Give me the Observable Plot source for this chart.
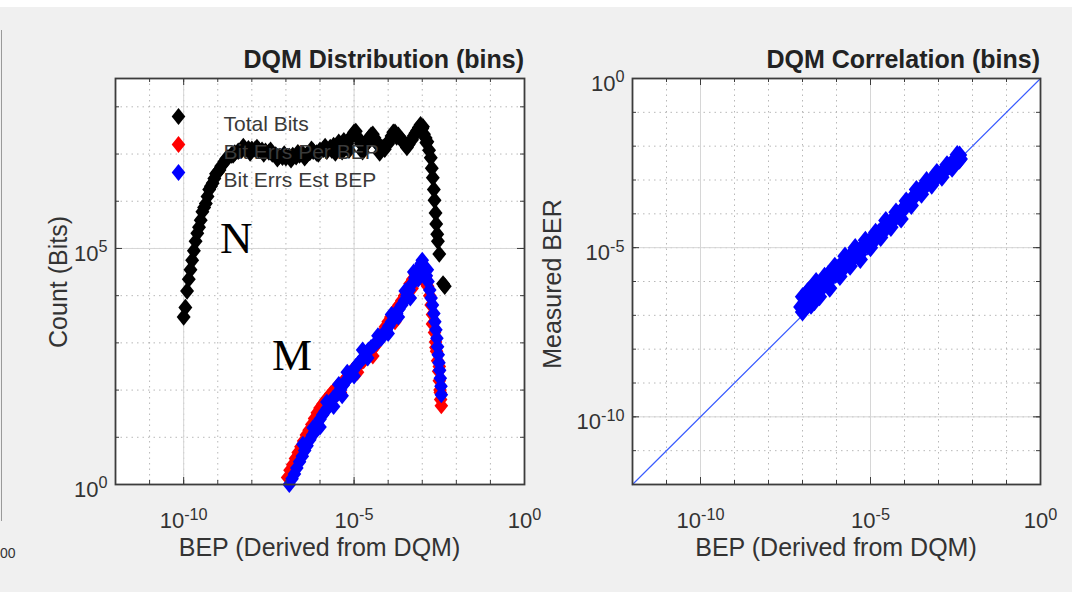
<!DOCTYPE html>
<html><head><meta charset="utf-8">
<script src="https://cdn.jsdelivr.net/npm/d3@7"></script>
<script src="https://cdn.jsdelivr.net/npm/@observablehq/plot@0.6"></script>
<style>
html,body{margin:0;padding:0;background:#f0f0f0;}
#root{position:relative;width:1072px;height:592px;overflow:hidden;background:#f0f0f0;font-family:"Liberation Sans",Arial,sans-serif;}
.panel{position:absolute;top:0;}
#topband{position:absolute;left:0;top:0;width:1072px;height:7px;background:#fff;}
#edge{position:absolute;left:1px;top:30px;height:491px;border-left:1px solid #9a9a9a;}
#overlay{position:absolute;left:0;top:0;pointer-events:none;}
</style></head>
<body>
<div id="root">
  <div id="topband"></div>
  <div id="edge"></div>
  <div id="leftPanel" class="panel" style="left:0"></div>
  <div id="rightPanel" class="panel" style="left:536px"></div>
</div>
<script>
// ---------- DATA (all values are log10 exponents) ----------
// Left panel: [log10 BEP, log10 count]
const totalBits = [
  [-10.0,3.55],[-9.95,3.75],[-9.9,4.10],[-9.85,4.35],[-9.8,4.55],[-9.75,4.75],[-9.7,4.95],[-9.65,5.15],
  [-9.6,5.32],[-9.55,5.45],[-9.5,5.60],[-9.45,5.78],[-9.4,5.87],[-9.35,5.95],[-9.3,6.10],[-9.25,6.25],
  [-9.2,6.32],[-9.15,6.38],[-9.1,6.48],[-9.05,6.58],[-9.0,6.62],[-8.95,6.66],[-8.9,6.74],[-8.8,6.84],
  [-8.75,6.90],[-8.7,6.92],[-8.6,6.98],[-8.55,6.98],[-8.5,7.02],[-8.4,7.06],[-8.3,7.08],[-8.25,7.16],
  [-8.2,7.10],[-8.1,7.11],[-8.05,7.02],[-8.0,7.10],[-7.9,7.10],[-7.85,7.14],[-7.8,7.09],[-7.7,7.08],
  [-7.65,7.00],[-7.6,7.06],[-7.5,7.04],[-7.45,7.08],[-7.4,7.00],[-7.3,6.98],[-7.25,6.90],[-7.2,6.95],
  [-7.1,6.93],[-7.05,7.00],[-7.0,6.92],[-6.9,6.95],[-6.85,6.88],[-6.8,6.97],[-6.7,6.94],[-6.65,7.03],
  [-6.6,6.98],[-6.5,7.00],[-6.45,6.92],[-6.4,6.97],[-6.3,7.03],[-6.25,7.10],[-6.2,7.06],[-6.1,7.02],
  [-6.05,7.00],[-6.0,7.08],[-5.9,7.10],[-5.85,7.16],[-5.8,7.06],[-5.7,7.14],[-5.65,7.08],[-5.6,7.18],
  [-5.55,7.02],[-5.5,7.12],[-5.45,7.25],[-5.4,7.20],[-5.35,7.05],[-5.3,7.28],[-5.25,7.16],[-5.2,7.22],
  [-5.15,7.08],[-5.1,7.35],[-5.05,7.40],[-5.0,7.46],[-4.95,7.48],[-4.9,7.36],[-4.85,7.30],[-4.8,7.22],
  [-4.75,7.05],[-4.7,7.16],[-4.65,7.20],[-4.6,7.28],[-4.55,7.35],[-4.5,7.40],[-4.45,7.42],[-4.4,7.34],
  [-4.35,7.26],[-4.3,7.20],[-4.25,7.02],[-4.2,7.14],[-4.15,7.14],[-4.1,7.10],[-4.0,7.22],[-3.95,7.30],
  [-3.9,7.38],[-3.85,7.46],[-3.8,7.46],[-3.75,7.36],[-3.7,7.40],[-3.6,7.30],[-3.55,7.24],[-3.5,7.22],
  [-3.45,7.14],[-3.4,7.20],[-3.3,7.30],[-3.25,7.38],[-3.2,7.44],[-3.15,7.50],[-3.1,7.56],[-3.05,7.62],
  [-3.0,7.54],[-2.98,7.58],[-2.95,7.42],[-2.9,7.34],[-2.88,7.24],[-2.85,7.26],[-2.8,7.08],[-2.75,6.92],
  [-2.72,6.70],[-2.69,6.50],[-2.66,6.25],[-2.64,6.02],[-2.61,5.75],[-2.59,5.52],[-2.56,5.30],[-2.54,5.15],
  [-2.5,4.88],[-2.39,4.25],[-2.34,4.20]
];
const bitErrsPer = [
  [-6.95,0.15],[-6.88,0.30],[-6.80,0.42],[-6.72,0.55],[-6.64,0.68],[-6.60,0.55],[-6.56,0.80],[-6.48,0.92],
  [-6.40,1.05],[-6.32,1.15],[-6.30,0.98],[-6.24,1.27],[-6.16,1.40],[-6.08,1.52],[-6.00,1.62],[-5.92,1.70],
  [-5.90,1.58],[-5.84,1.78],[-5.76,1.85],[-5.68,1.92],[-5.60,1.98],[-5.60,1.82],[-5.52,2.05],[-5.44,2.10],
  [-5.40,1.95],[-5.36,2.14],[-5.28,2.20],[-5.20,2.28],[-5.12,2.35],[-5.04,2.42],[-4.96,2.48],[-4.90,2.38],
  [-4.88,2.52],[-4.80,2.58],[-4.72,2.62],[-4.64,2.70],[-4.56,2.78],[-4.48,2.85],[-4.45,2.72],[-4.40,2.92],
  [-4.32,3.00],[-4.24,3.10],[-4.16,3.22],[-4.08,3.34],[-4.00,3.45],[-3.92,3.55],[-3.84,3.64],[-3.80,3.45],
  [-3.76,3.72],[-3.68,3.80],[-3.60,3.90],[-3.52,4.00],[-3.44,4.12],[-3.36,4.25],[-3.30,4.15],[-3.28,4.35],
  [-3.20,4.45],[-3.12,4.55],[-3.05,4.62],[-2.98,4.55],[-2.90,4.40],[-2.88,4.25],[-2.84,4.20],[-2.78,4.00],
  [-2.74,3.80],[-2.70,3.60],[-2.70,3.40],[-2.67,3.42],[-2.64,3.22],[-2.61,3.02],[-2.60,2.90],[-2.58,2.82],
  [-2.55,2.62],[-2.52,2.40],[-2.50,2.50],[-2.50,2.20],[-2.48,2.00],[-2.47,1.95],[-2.46,1.80],[-2.44,1.67]
];
const bitErrsEst = [
  [-6.90,0.00],[-6.82,0.12],[-6.75,0.22],[-6.68,0.35],[-6.60,0.48],[-6.52,0.60],[-6.50,0.85],[-6.45,0.72],
  [-6.38,0.82],[-6.30,0.95],[-6.22,1.05],[-6.20,1.20],[-6.15,1.12],[-6.08,1.25],[-6.00,1.38],[-6.00,1.22],
  [-5.92,1.48],[-5.85,1.55],[-5.80,1.75],[-5.78,1.62],[-5.70,1.72],[-5.62,1.82],[-5.60,1.65],[-5.55,1.88],
  [-5.48,1.92],[-5.45,2.12],[-5.40,2.00],[-5.35,1.88],[-5.32,2.10],[-5.25,2.18],[-5.20,2.38],[-5.18,2.25],
  [-5.10,2.33],[-5.02,2.42],[-5.00,2.30],[-4.95,2.50],[-4.88,2.56],[-4.80,2.62],[-4.75,2.85],[-4.72,2.70],
  [-4.65,2.78],[-4.60,2.68],[-4.58,2.85],[-4.50,2.90],[-4.42,2.95],[-4.35,3.00],[-4.30,3.15],[-4.28,3.05],
  [-4.20,3.10],[-4.12,3.18],[-4.05,3.28],[-4.00,3.20],[-3.98,3.36],[-3.90,3.45],[-3.90,3.60],[-3.82,3.54],
  [-3.75,3.62],[-3.70,3.55],[-3.68,3.72],[-3.60,3.80],[-3.52,3.90],[-3.50,4.10],[-3.45,4.00],[-3.38,4.12],
  [-3.35,3.95],[-3.30,4.25],[-3.25,4.50],[-3.22,4.38],[-3.15,4.50],[-3.12,4.35],[-3.08,4.60],[-3.03,4.68],
  [-3.00,4.75],[-2.98,4.62],[-2.95,4.45],[-2.93,4.52],[-2.88,4.42],[-2.85,4.55],[-2.83,4.30],[-2.78,4.12],
  [-2.74,3.95],[-2.70,3.80],[-2.66,3.62],[-2.63,3.45],[-2.60,3.28],[-2.57,3.10],[-2.55,2.92],[-2.53,2.75],
  [-2.51,2.58],[-2.49,2.42],[-2.47,2.25],[-2.45,2.08],[-2.44,1.90]
];
// Right panel: [log10 BEP, log10 measured BER]
const correlation = [
  [-7.05,-6.75],[-7.00,-6.45],[-7.00,-6.90],[-6.95,-6.70],[-6.92,-6.40],[-6.90,-6.50],[-6.90,-6.75],[-6.85,-6.30],
  [-6.80,-6.55],[-6.80,-6.25],[-6.75,-6.40],[-6.75,-6.70],[-6.70,-6.20],[-6.65,-6.60],[-6.62,-6.35],[-6.60,-6.00],
  [-6.55,-6.10],[-6.50,-6.45],[-6.48,-6.25],[-6.40,-5.95],[-6.35,-5.85],[-6.32,-6.05],[-6.25,-5.80],[-6.20,-6.20],
  [-6.18,-5.92],[-6.10,-5.70],[-6.05,-5.55],[-6.02,-5.78],[-5.95,-5.60],[-5.90,-5.85],[-5.88,-5.52],[-5.80,-5.62],
  [-5.75,-5.25],[-5.72,-5.40],[-5.64,-5.30],[-5.60,-5.55],[-5.56,-5.38],[-5.48,-5.18],[-5.45,-5.00],[-5.40,-5.10],
  [-5.32,-5.20],[-5.30,-5.35],[-5.24,-4.98],[-5.16,-4.90],[-5.15,-4.78],[-5.08,-4.95],[-5.00,-4.78],[-5.00,-5.00],
  [-4.92,-4.70],[-4.85,-4.55],[-4.84,-4.72],[-4.76,-4.56],[-4.70,-4.70],[-4.68,-4.48],[-4.60,-4.50],[-4.55,-4.20],
  [-4.52,-4.34],[-4.44,-4.28],[-4.40,-4.40],[-4.36,-4.22],[-4.28,-4.10],[-4.25,-3.95],[-4.20,-4.05],[-4.12,-3.96],
  [-4.10,-4.15],[-4.04,-3.85],[-3.96,-3.78],[-3.95,-3.62],[-3.88,-3.68],[-3.80,-3.58],[-3.80,-3.75],[-3.72,-3.50],
  [-3.65,-3.28],[-3.64,-3.40],[-3.56,-3.32],[-3.50,-3.42],[-3.48,-3.24],[-3.40,-3.18],[-3.35,-3.02],[-3.32,-3.10],
  [-3.24,-3.04],[-3.20,-3.15],[-3.16,-2.98],[-3.08,-2.92],[-3.05,-2.78],[-3.00,-2.86],[-2.92,-2.80],[-2.90,-2.92],
  [-2.84,-2.72],[-2.76,-2.66],[-2.75,-2.55],[-2.68,-2.58],[-2.60,-2.50],[-2.60,-2.65],[-2.52,-2.42],[-2.45,-2.25],
  [-2.44,-2.34],[-2.40,-2.42],[-2.38,-2.26],[-2.36,-2.38]
];
const identityLine = [-12, 0];              // y = x reference line (log10 BEP = log10 BER)
const seriesNames = ["Total Bits", "Bit Errs Per BEP", "Bit Errs Est BEP"];
const seriesColors = ["#000000", "#ff0000", "#0000ff"];
// Axis tick exponents
const bepDomain = [-12, 0];
const countDomain = [0, 8.6];
const berDomain = [-12, 0];
const bepMajor = [-10, -5, 0];
const bepMinor = [-11, -10, -9, -8, -7, -6, -5, -4, -3, -2, -1];
const countMajor = [0, 5];
const countMinor = [1, 2, 3, 4, 5, 6, 7, 8];
const berMajor = [-10, -5, 0];
const berMinor = [-11, -10, -9, -8, -7, -6, -5, -4, -3, -2, -1];
const titles = ["DQM Distribution (bins)", "DQM Correlation (bins)"];
const xLabel = "BEP (Derived from DQM)";
const yLabels = ["Count (Bits)", "Measured BER"];
const curveTags = ["N", "M"];

// ---------- STYLE ----------
const FONT = '"Liberation Sans", Arial, Helvetica, sans-serif';
const W = 536, H = 592, MT = 78, MB = 108;
const FH = H - MT - MB;
const matlabDiamond = {
  draw(ctx, size) {
    const a = Math.sqrt(size) * 0.6, b = a * 0.8;
    ctx.moveTo(0, -a); ctx.lineTo(b, 0); ctx.lineTo(0, a); ctx.lineTo(-b, 0); ctx.closePath();
  }
};
const fmt = d => `10^${d}`;
const gridStyle = {minor: {stroke: "#b8b8b8", strokeDasharray: "1.5,4", strokeWidth: 1},
                   major: {stroke: "#d6d6d6", strokeWidth: 1}};
const edge = "#3c3c3c";

function frameTicks(xMaj, xMin, yMaj, yMin, FW) {
  return [
    Plot.ruleX(xMaj, {stroke: edge, insetTop: FH - 7}),
    Plot.ruleX(xMaj, {stroke: edge, insetBottom: FH - 7}),
    Plot.ruleX(xMin, {stroke: edge, insetTop: FH - 4}),
    Plot.ruleX(xMin, {stroke: edge, insetBottom: FH - 4}),
    Plot.ruleY(yMaj, {stroke: edge, insetRight: FW - 7}),
    Plot.ruleY(yMaj, {stroke: edge, insetLeft: FW - 7}),
    Plot.ruleY(yMin, {stroke: edge, insetRight: FW - 4}),
    Plot.ruleY(yMin, {stroke: edge, insetLeft: FW - 4})
  ];
}
function superscripts(svg) {
  d3.select(svg).selectAll('[aria-label$="tick label"] text').each(function () {
    const s = this.textContent, i = s.indexOf("^");
    if (i < 0) return;
    this.textContent = s.slice(0, i);
    d3.select(this).append("tspan").attr("dy", "-0.5em").attr("font-size", "0.74em").text(s.slice(i + 1));
  });
}
const baseStyle = {background: "transparent", fontFamily: FONT, fontSize: "22px", color: "#333", overflow: "visible"};

// ---------- LEFT PANEL ----------
const L_ML = 115, L_MR = 12, L_FW = W - L_ML - L_MR;
// legend drawn on top of the data (transparent MATLAB-style legend)
const legendMarks = seriesNames.flatMap((name, i) => [
  Plot.text([name], {frameAnchor: "top-left", dx: 108, dy: 38 + 28 * i, text: d => d,
    textAnchor: "start", fill: "#3a3a3a", fontSize: 21}),
  Plot.dot([name], {frameAnchor: "top-left", dx: 63, dy: 38 + 28 * i, fill: seriesColors[i],
    symbol: matlabDiamond, r: 8})
]);
const left = Plot.plot({
  width: W, height: H, marginLeft: L_ML, marginRight: L_MR, marginTop: MT, marginBottom: MB,
  style: baseStyle,
  x: {type: "linear", domain: bepDomain, axis: null},
  y: {type: "linear", domain: countDomain, axis: null},
  marks: [
    Plot.frame({fill: "white", stroke: "none"}),
    Plot.ruleX(bepMinor, gridStyle.minor),
    Plot.ruleY(countMinor, gridStyle.minor),
    Plot.ruleX(bepMajor, gridStyle.major),
    Plot.ruleY(countMajor, gridStyle.major),
    Plot.dot(totalBits, {x: d => d[0], y: d => d[1], fill: seriesColors[0], symbol: matlabDiamond, r: 8.2}),
    Plot.dot(bitErrsPer, {x: d => d[0], y: d => d[1], fill: seriesColors[1], symbol: matlabDiamond, r: 8}),
    Plot.dot(bitErrsEst, {x: d => d[0], y: d => d[1], fill: seriesColors[2], symbol: matlabDiamond, r: 8}),
    ...legendMarks,
    ...frameTicks(bepMajor, bepMinor, countMajor, countMinor, L_FW),
    Plot.frame({stroke: edge, strokeWidth: 1.8, fill: "none"}),
    Plot.axisX({ticks: bepMajor, tickFormat: fmt, tickSize: 0, tickPadding: 28, anchor: "bottom", label: null}),
    Plot.axisY({ticks: countMajor, tickFormat: fmt, tickSize: 0, tickPadding: 8, anchor: "left", label: null, dy: 5})
  ]
});
superscripts(left);
document.getElementById("leftPanel").appendChild(left);

// ---------- RIGHT PANEL ----------
const R_ML = 96, R_MR = 32, R_FW = W - R_ML - R_MR;
const right = Plot.plot({
  width: W, height: H, marginLeft: R_ML, marginRight: R_MR, marginTop: MT, marginBottom: MB,
  style: baseStyle,
  x: {type: "linear", domain: bepDomain, axis: null},
  y: {type: "linear", domain: berDomain, axis: null},
  marks: [
    Plot.frame({fill: "white", stroke: "none"}),
    Plot.ruleX(bepMinor, gridStyle.minor),
    Plot.ruleY(berMinor, gridStyle.minor),
    Plot.ruleX(bepMajor, gridStyle.major),
    Plot.ruleY(berMajor, gridStyle.major),
    Plot.line(identityLine, {x: d => d, y: d => d, stroke: "#3a5cff", strokeWidth: 1.2}),
    Plot.dot(correlation, {x: d => d[0], y: d => d[1], fill: "#0000ff", symbol: matlabDiamond, r: 9}),
    ...frameTicks(bepMajor, bepMinor, berMajor, berMinor, R_FW),
    Plot.frame({stroke: edge, strokeWidth: 1.8, fill: "none"}),
    Plot.axisX({ticks: bepMajor, tickFormat: fmt, tickSize: 0, tickPadding: 28, anchor: "bottom", label: null}),
    Plot.axisY({ticks: berMajor, tickFormat: fmt, tickSize: 0, tickPadding: 8, anchor: "left", label: null, dy: 5})
  ]
});
superscripts(right);
document.getElementById("rightPanel").appendChild(right);

// ---------- TEXT OVERLAY (titles, axis labels, annotations) ----------
const ov = d3.select("#root").append("svg").attr("id", "overlay").attr("width", 1072).attr("height", 592)
  .style("font-family", FONT);
const lx = [L_ML, L_ML + L_FW], rx = [W + R_ML, W + R_ML + R_FW];
ov.append("text").attr("x", lx[1]).attr("y", 68).attr("text-anchor", "end").attr("font-weight", "bold")
  .attr("font-size", 25).attr("fill", "#222").text(titles[0]);
ov.append("text").attr("x", rx[1]).attr("y", 68).attr("text-anchor", "end").attr("font-weight", "bold")
  .attr("font-size", 25).attr("fill", "#222").text(titles[1]);
[lx, rx].forEach(r => ov.append("text").attr("x", (r[0] + r[1]) / 2).attr("y", 556).attr("text-anchor", "middle")
  .attr("font-size", 25).attr("fill", "#333").text(xLabel));
ov.append("text").attr("transform", "translate(67,282) rotate(-90)").attr("text-anchor", "middle")
  .attr("font-size", 25).attr("fill", "#333").text(yLabels[0]);
ov.append("text").attr("transform", "translate(561,284) rotate(-90)").attr("text-anchor", "middle")
  .attr("font-size", 25).attr("fill", "#333").text(yLabels[1]);
ov.append("text").attr("x", 220).attr("y", 253).attr("font-family", '"Liberation Serif", "Times New Roman", serif')
  .attr("font-size", 45).attr("fill", "#000").text(curveTags[0]);
ov.append("text").attr("x", 272).attr("y", 370).attr("font-family", '"Liberation Serif", "Times New Roman", serif')
  .attr("font-size", 45).attr("fill", "#000").text(curveTags[1]);
ov.append("text").attr("x", 0).attr("y", 558).attr("font-size", 14).attr("fill", "#333").text("00");
</script>
</body></html>
